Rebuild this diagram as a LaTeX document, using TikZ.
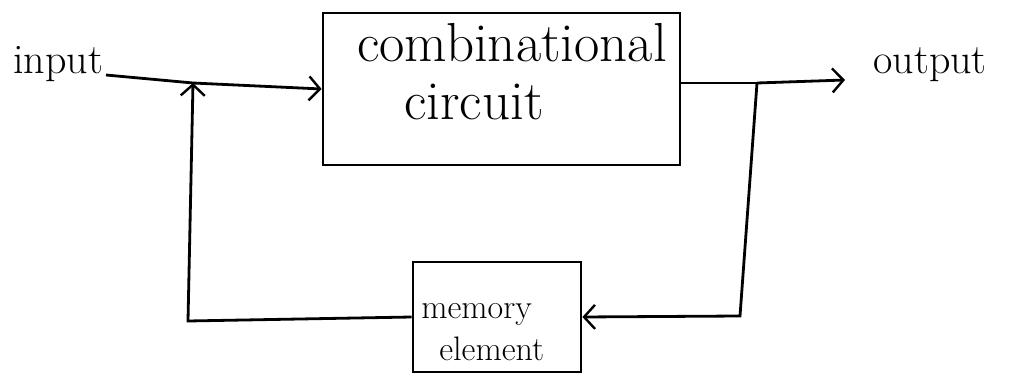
\documentclass[tikz,border=0pt]{standalone}
\usetikzlibrary{arrows.meta}
\begin{document}
\begin{tikzpicture}[x=1pt,y=-1pt, line width=2.8pt,
  >={Straight Barb[length=11pt,width=24pt,line width=2.4pt]},
  box/.style={draw, rectangle, inner sep=0pt},
  lbl/.style={inner sep=0pt, anchor=base west},
  big/.style={font=\fontsize{55}{60}\selectfont},
  mid/.style={font=\fontsize{42}{46}\selectfont},
  sml/.style={font=\fontsize{34}{38}\selectfont}]
\useasboundingbox (0,0) rectangle (1010,377);
% boxes
\node[box, minimum width=357pt, minimum height=152pt] (comb) at (501.5,89) {};
\node[box, minimum width=168pt, minimum height=110pt] (mem) at (497,317) {};
% texts
\node[lbl, big] (t1) at (356,62) {combinational};
\node[lbl, big] (t2) at (403,120) {circuit};
\node[lbl, sml] (t3) at (420,318) {memory};
\node[lbl, sml] (t4) at (438,360) {element};
\node[lbl, mid] (inp) at (12,74) {input};
\node[lbl, mid] (out) at (872,74) {output};
% junction points
\coordinate (a) at (106,75);
\coordinate (J) at (193,83);
\coordinate (B) at (757,83);
\coordinate (O) at (845,80);
\coordinate (BR) at (740,316);
\coordinate (BL) at (188,321);
% connectors
\draw (a) -- (J);
\draw[->] (J) -- (comb.west);
\draw (comb.east |- B) -- (B);
\draw[->] (B) -- (O);
\draw[->] (B) -- (BR) -- (mem.east);
\draw[->] (mem.west) -- (BL) -- (J);
\end{tikzpicture}
\end{document}
